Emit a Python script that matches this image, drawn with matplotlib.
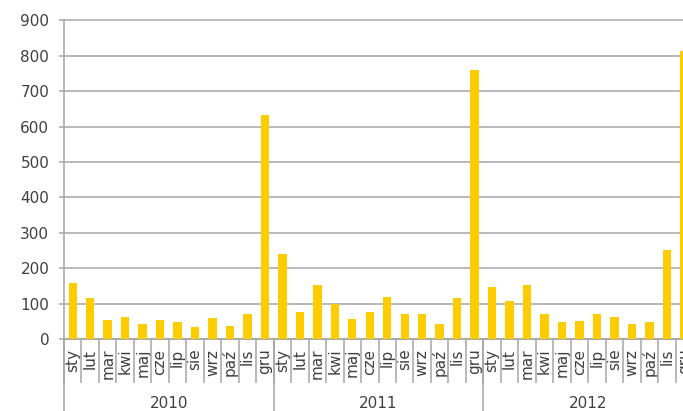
import matplotlib.pyplot as plt
from matplotlib.transforms import blended_transform_factory

# Monthly values 2010-2012
months = ['sty', 'lut', 'mar', 'kwi', 'maj', 'cze', 'lip', 'sie', 'wrz', 'paź', 'lis', 'gru']
years = ['2010', '2011', '2012']
values_2010 = [159, 115, 55, 63, 43, 54, 49, 33, 58, 37, 72, 634]
values_2011 = [239, 75, 152, 98, 56, 75, 119, 70, 70, 43, 117, 760]
values_2012 = [146, 107, 153, 72, 48, 52, 71, 61, 43, 48, 251, 814]

values = values_2010 + values_2011 + values_2012
labels = months * len(years)

bar_color = '#FFCC00'
grid_color = '#A6A6A6'
text_color = '#404040'

fig = plt.figure(figsize=(6.83, 4.11), dpi=100)
# plot area runs past the right edge like the original screenshot
ax = fig.add_axes([64 / 683, 72 / 411, 629 / 683, 318.5 / 411])

x = [i + 0.5 for i in range(len(values))]
ax.bar(x, values, width=0.48, color=bar_color, zorder=3)

ax.set_xlim(0, len(values))
ax.set_ylim(0, 900)
ax.set_yticks(range(0, 901, 100))
ax.yaxis.grid(True, color=grid_color, linewidth=1.1, zorder=0)
ax.set_axisbelow(True)
for gl in ax.get_ygridlines():
    gl.set_clip_on(False)

for side in ['top', 'right']:
    ax.spines[side].set_visible(False)
ax.spines['left'].set_color(grid_color)
ax.spines['bottom'].set_color(grid_color)
ax.spines['left'].set_linewidth(1.1)
ax.spines['bottom'].set_linewidth(1.1)

ax.tick_params(axis='y', colors=grid_color, labelcolor=text_color, length=3.6,
               width=1.1, pad=7, labelsize=11)

# month labels, rotated, with separator ticks between categories
ax.set_xticks(x)
ax.set_xticklabels(labels, rotation=90, fontsize=11, color=text_color)
ax.tick_params(axis='x', which='major', length=0, pad=7)
ax.set_xticks(range(len(values) + 1), minor=True)
ax.tick_params(axis='x', which='minor', length=31.7, width=1.1, color=grid_color)

# year separators and year labels
trans = blended_transform_factory(ax.transData, ax.transAxes)
for k, yr in enumerate(years):
    start = k * len(months)
    ax.plot([start, start], [0, -0.3], transform=trans, color=grid_color,
            linewidth=1.1, clip_on=False)
    ax.text(start + len(months) / 2, -0.204, yr, transform=trans, ha='center',
            va='center', fontsize=11, color=text_color)
ax.plot([len(values)] * 2, [0, -0.3], transform=trans, color=grid_color,
        linewidth=1.1, clip_on=False)

plt.savefig('out.png', dpi=100)
